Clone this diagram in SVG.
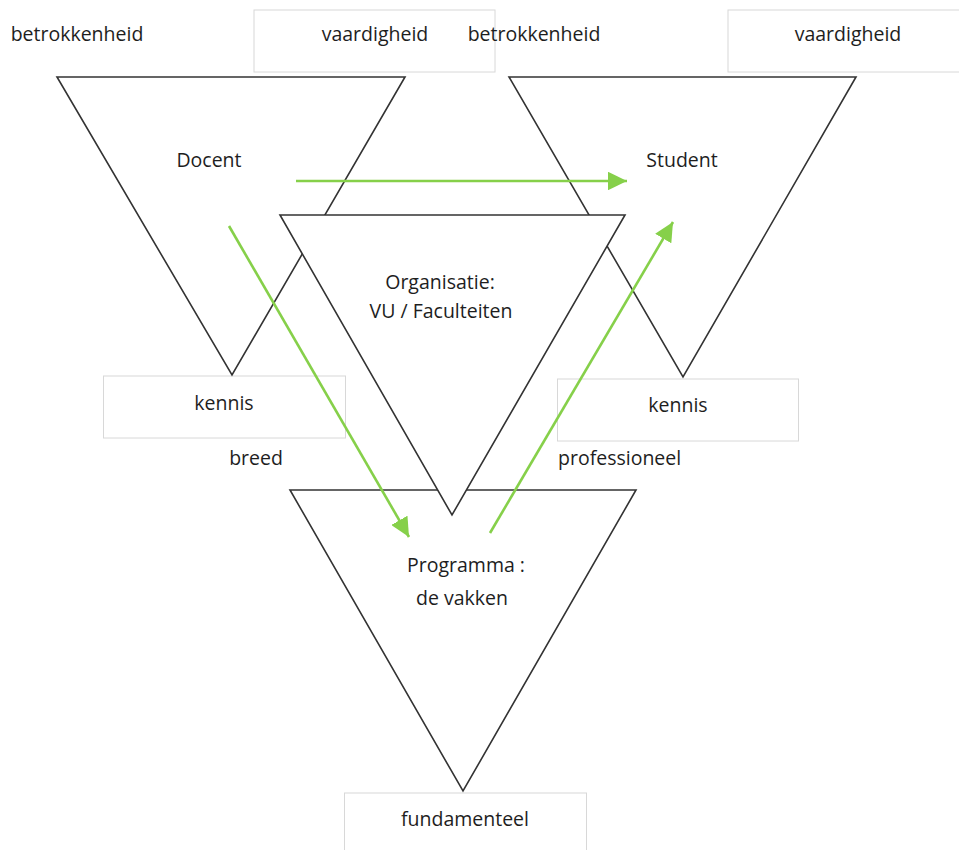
<svg xmlns="http://www.w3.org/2000/svg" width="959" height="850" viewBox="0 0 959 850">
<defs>
<style>
.tri{fill:#fff;stroke:#333;stroke-width:1.6;stroke-linejoin:miter}
.box{fill:#fff;stroke:#d8d8d8;stroke-width:1}
.t{font-family:"Open Sans","Liberation Sans",sans-serif;font-size:19.5px;fill:#1e1e1e}
.m{text-anchor:middle}
.arr{stroke:#86d04a;stroke-width:2.6;fill:none;marker-end:url(#ah)}
</style>
<marker id="ah" viewBox="0 0 10 10" refX="10" refY="5" markerWidth="7.4" markerHeight="7.2" markerUnits="strokeWidth" orient="auto" preserveAspectRatio="none">
<path d="M0,0 L10,5 L0,10 Z" fill="#86d04a"/>
</marker>
</defs>
<rect width="959" height="850" fill="#fff"/>
<g id="label-boxes">
<rect class="box" x="254" y="10" width="241" height="62"/>
<rect class="box" x="728" y="10" width="240" height="62"/>
<rect class="box" x="103.5" y="376" width="242" height="62"/>
<rect class="box" x="557.5" y="379" width="241" height="62"/>
<rect class="box" x="344.5" y="793" width="242" height="70"/>
</g>
<g id="docent">
<polygon class="tri" points="57,77 405,77 232,375"/>
<text class="t m" x="209" y="167">Docent</text>
</g>
<g id="student">
<polygon class="tri" points="509,77 856,77 683,377"/>
<text class="t m" x="682" y="167">Student</text>
</g>
<g id="programma">
<polygon class="tri" points="290,490 636,490 463,791"/>
<text class="t m" x="466" y="572">Programma :</text>
<text class="t m" x="462" y="605">de vakken</text>
</g>
<g id="organisatie">
<polygon class="tri" points="280,215 625,215 452,515"/>
<text class="t m" x="440" y="289">Organisatie:</text>
<text class="t m" x="441" y="318">VU / Faculteiten</text>
</g>
<g id="labels">
<text class="t m" x="77" y="41">betrokkenheid</text>
<text class="t m" x="375" y="41">vaardigheid</text>
<text class="t m" x="534" y="41">betrokkenheid</text>
<text class="t m" x="848" y="41">vaardigheid</text>
<text class="t m" x="224" y="410">kennis</text>
<text class="t m" x="256" y="465">breed</text>
<text class="t m" x="678" y="412">kennis</text>
<text class="t" x="558" y="465">professioneel</text>
<text class="t m" x="465" y="826">fundamenteel</text>
</g>
<g id="connectors">
<line class="arr" x1="296" y1="181" x2="627" y2="181"/>
<line class="arr" x1="229" y1="226" x2="409" y2="537"/>
<line class="arr" x1="490" y1="533" x2="673" y2="222"/>
</g>
</svg>
